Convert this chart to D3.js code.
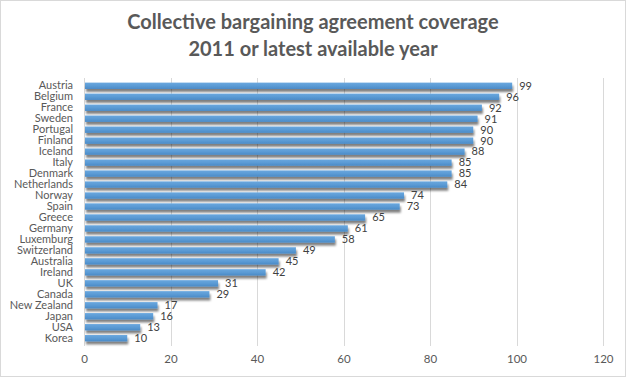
<!DOCTYPE html>
<html>
<head>
<meta charset="utf-8">
<script src="https://cdn.jsdelivr.net/npm/d3@7"></script>
<style>
  body { margin: 0; background: #fff; }
  svg { display: block; font-family: Lato, "Open Sans", sans-serif; }
</style>
</head>
<body>
<div id="chart"></div>
<script>
const countries = ["Austria", "Belgium", "France", "Sweden", "Portugal", "Finland", "Iceland", "Italy",
    "Denmark", "Netherlands", "Norway", "Spain", "Greece", "Germany", "Luxemburg", "Switzerland",
    "Australia", "Ireland", "UK", "Canada", "New Zealand", "Japan", "USA", "Korea"];
const coverage = [99, 96, 92, 91, 90, 90, 88, 85, 85, 84, 74, 73, 65, 61, 58, 49, 45, 42, 31, 29, 17, 16, 13, 10];
const xTicks = [0, 20, 40, 60, 80, 100, 120];
const titleLines = ["Collective bargaining agreement coverage", "2011 or latest available year"];

function init() {
    const w = 626, h = 377;
    const margin = { top: 78, right: 23, bottom: 31, left: 84 };
    const data = countries.map((c, i) => ({ country: c, value: coverage[i] }));

    const svg = d3.select("#chart").append("svg")
        .attr("width", w)
        .attr("height", h);

    // outer border
    svg.append("rect")
        .attr("x", 0.5).attr("y", 0.5)
        .attr("width", w - 1).attr("height", h - 1)
        .attr("fill", "#fff")
        .attr("stroke", "#d9d9d9");

    const defs = svg.append("defs");
    const shadow = defs.append("filter").attr("id", "shadow")
        .attr("x", "-5%").attr("y", "-50%").attr("width", "110%").attr("height", "220%");
    shadow.append("feGaussianBlur").attr("in", "SourceAlpha").attr("stdDeviation", 1.1).attr("result", "blur");
    shadow.append("feOffset").attr("dx", 1).attr("dy", 2.5).attr("result", "off");
    shadow.append("feComponentTransfer").append("feFuncA").attr("type", "linear").attr("slope", 0.5);
    const merge = shadow.append("feMerge");
    merge.append("feMergeNode");
    merge.append("feMergeNode").attr("in", "SourceGraphic");

    const grad = defs.append("linearGradient").attr("id", "barGrad")
        .attr("x1", 0).attr("x2", 0).attr("y1", 0).attr("y2", 1);
    grad.append("stop").attr("offset", "0%").attr("stop-color", "#6aa7de");
    grad.append("stop").attr("offset", "50%").attr("stop-color", "#5b9bd5");
    grad.append("stop").attr("offset", "100%").attr("stop-color", "#4a8ac6");

    const x = d3.scaleLinear()
        .domain([0, 120])
        .range([margin.left, w - margin.right]);

    const y = d3.scaleBand()
        .domain(countries)
        .range([margin.top, h - margin.bottom])
        .padding(0.42);

    // title
    svg.append("text")
        .attr("x", w / 2)
        .attr("y", 29)
        .attr("text-anchor", "middle")
        .attr("fill", "#595959")
        .style("font-size", "20px")
        .style("font-weight", "bold")
        .selectAll("tspan")
        .data(titleLines)
        .join("tspan")
        .attr("x", w / 2)
        .attr("dy", (d, i) => i === 0 ? 0 : 27)
        .text(d => d);

    // vertical gridlines
    svg.append("g")
        .attr("stroke", "#d9d9d9")
        .selectAll("line")
        .data(xTicks)
        .join("line")
        .attr("x1", d => Math.round(x(d)) + 0.5)
        .attr("x2", d => Math.round(x(d)) + 0.5)
        .attr("y1", margin.top)
        .attr("y2", h - margin.bottom);

    // x axis labels
    svg.append("g")
        .attr("transform", `translate(0,${h - margin.bottom})`)
        .call(d3.axisBottom(x).tickValues(xTicks).tickSize(0).tickPadding(9))
        .call(g => g.select(".domain").remove())
        .call(g => g.selectAll("text")
            .attr("fill", "#595959")
            .style("font-size", "11.5px")
            .style("font-family", "Lato, 'Open Sans', sans-serif"));

    // y axis labels
    svg.append("g")
        .attr("transform", `translate(${margin.left},0)`)
        .call(d3.axisLeft(y).tickSize(0).tickPadding(11))
        .call(g => g.select(".domain").remove())
        .call(g => g.selectAll("text")
            .attr("fill", "#595959")
            .style("font-size", "11px")
            .style("font-family", "Lato, 'Open Sans', sans-serif"));

    // bars
    svg.append("g")
        .attr("filter", "url(#shadow)")
        .selectAll("rect")
        .data(data)
        .join("rect")
        .attr("x", x(0) + 1)
        .attr("y", d => y(d.country))
        .attr("width", d => x(d.value) - x(0) - 1)
        .attr("height", y.bandwidth())
        .attr("fill", "url(#barGrad)");

    // value labels
    svg.append("g")
        .selectAll("text")
        .data(data)
        .join("text")
        .attr("x", d => x(d.value) + 7)
        .attr("y", d => y(d.country) + y.bandwidth() / 2)
        .attr("dy", "0.35em")
        .attr("fill", "#404040")
        .style("font-size", "11px")
        .text(d => d.value);
}

window.onload = init;
</script>
</body>
</html>
